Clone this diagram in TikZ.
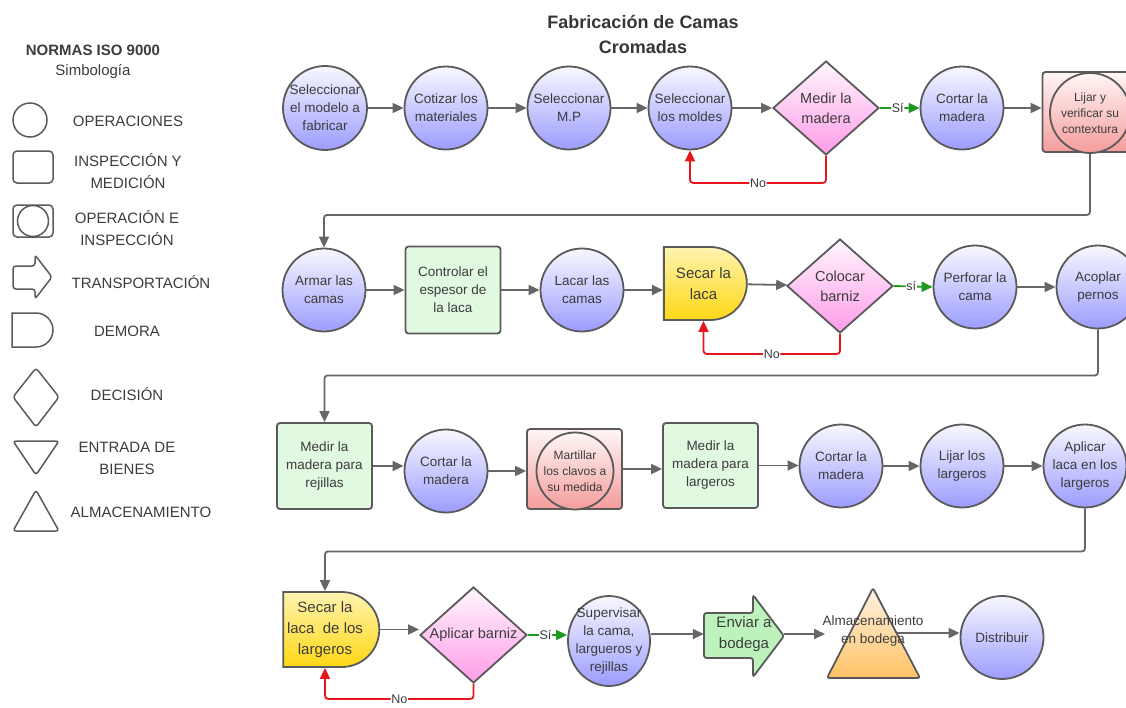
\documentclass[tikz,border=0pt]{standalone}
\usepackage{fontspec}
\setmainfont{Liberation Sans}
\usetikzlibrary{arrows.meta,shapes.geometric,shapes.misc}

\definecolor{edge}{HTML}{5A5A5A}
\definecolor{wire}{HTML}{666666}
\definecolor{ink}{HTML}{3C3C3C}
\definecolor{opTop}{HTML}{F8F8FF}
\definecolor{opBot}{HTML}{9C9CFF}
\definecolor{decTop}{HTML}{FFF6FD}
\definecolor{decBot}{HTML}{FF9CE8}
\definecolor{redTop}{HTML}{FFF6F6}
\definecolor{redBot}{HTML}{F59C9C}
\definecolor{yelTop}{HTML}{FFF3B0}
\definecolor{yelBot}{HTML}{FFD814}
\definecolor{insFill}{HTML}{E1F8E1}
\definecolor{trFill}{HTML}{BDF2BD}
\definecolor{almTop}{HTML}{FFF4E4}
\definecolor{almBot}{HTML}{FFC266}
\definecolor{noRed}{HTML}{E8161C}
\definecolor{siGreen}{HTML}{1E9B1E}

\tikzset{
  txtA/.style={font=\fontsize{13.5}{18}\selectfont},
  txtB/.style={font=\fontsize{14.5}{20}\selectfont},
  txtC/.style={font=\fontsize{12}{16}\selectfont},
  txtD/.style={font=\fontsize{15}{21}\selectfont},
  shapebase/.style={draw=edge, line width=1.8pt, text=ink, align=center, inner sep=0pt},
  oper/.style={shapebase, circle, minimum size=83pt, top color=opTop, bottom color=opBot, txtA},
  insp/.style={shapebase, rectangle, rounded corners=3pt, minimum width=95pt, minimum height=86pt, fill=insFill, txtA},
  decis/.style={shapebase, diamond, shape aspect=1.1, minimum width=106pt, minimum height=94pt, top color=decTop, bottom color=decBot, txtB},
  combobox/.style={shapebase, rectangle, rounded corners=3pt, minimum width=95pt, minimum height=80pt, top color=redTop, bottom color=redBot},
  combocirc/.style={shapebase, circle, top color=redTop, bottom color=redBot, txtC},
  delay/.style={shapebase, rounded rectangle, rounded rectangle left arc=none, top color=yelTop, bottom color=yelBot, txtD},
  conn/.style={draw=wire, line width=1.8pt, -{Triangle[length=11pt,width=10pt]}, rounded corners=3pt},
  noloop/.style={conn, draw=noRed},
  siarrow/.style={conn, draw=siGreen},
  lbl/.style={fill=white, inner sep=0.6pt, text=ink, font=\fontsize{12.5}{14}\selectfont},
  legshape/.style={draw=edge, line width=1.5pt, rounded corners=3pt},
  legnode/.style={draw=edge, line width=1.5pt, inner sep=0pt},
  legtext/.style={text=ink, align=center, font=\fontsize{15}{22}\selectfont},
}

\begin{document}
\begin{tikzpicture}[x=1pt,y=-1pt]
\useasboundingbox (0,0) rectangle (1126,707);

% ---------- title ----------
\node[text=ink!90!black, align=center, font=\bfseries\fontsize{18}{25}\selectfont] (title) at (643,34)
  {Fabricación de Camas\\Cromadas};

% ---------- legend ----------
\node[legtext, font=\bfseries\fontsize{15}{22}\selectfont] (lgtitle) at (93,50) {NORMAS ISO 9000};
\node[legtext] (lgsub) at (93,72) {Simbología};

\node[legnode, circle, minimum size=34pt] (lgop) at (30,120) {};
\node[legtext] (lgoptx) at (128,121) {OPERACIONES};

\node[legnode, rectangle, rounded corners=4pt, minimum width=40pt, minimum height=32pt] (lgins) at (33,167) {};
\node[legtext] (lginstx) at (128,171) {INSPECCIÓN Y\\MEDICIÓN};

\node[legnode, rectangle, rounded corners=4pt, minimum width=40pt, minimum height=32pt] (lgcomb) at (33,221) {};
\node[legnode, circle, minimum size=31pt] (lgcombc) at (33,221) {};
\node[legtext] (lgcombtx) at (127,228) {OPERACIÓN E\\INSPECCIÓN};

\draw[legshape] (13,266) -- (35,266) -- (35,255) -- (52,277) -- (35,299) -- (35,289) -- (13,289) -- cycle;
\node[legtext] (lgtrtx) at (141,282) {TRANSPORTACIÓN};

\node[legnode, rounded rectangle, rounded rectangle left arc=none, minimum width=41pt, minimum height=34pt] (lgdel) at (32.5,330) {};
\node[legtext] (lgdeltx) at (127,331) {DEMORA};

\draw[legshape] (36,368) -- (59,397) -- (36,427) -- (13,397) -- cycle;
\node[legtext] (lgdectx) at (127,394) {DECISIÓN};

\draw[legshape] (13,441) -- (59,441) -- (36,475) -- cycle;
\node[legtext] (lgenttx) at (127,458) {ENTRADA DE\\BIENES};

\draw[legshape] (36,490) -- (59,531) -- (13,531) -- cycle;
\node[legtext] (lgalmtx) at (141,512) {ALMACENAMIENTO};

% ---------- row 1 ----------
\node[oper] (s1) at (325,108) {Seleccionar\\el modelo a\\fabricar};
\node[oper] (s2) at (446,108) {Cotizar los\\materiales};
\node[oper] (s3) at (569,108) {Seleccionar\\M.P};
\node[oper] (s4) at (690,108) {Seleccionar\\los moldes};
\node[decis] (d1) at (826,108) {Medir la\\madera};
\node[oper] (c5) at (962,108) {Cortar la\\madera};
\node[combobox] (lijr) at (1090,112) {};
\node[combocirc, minimum size=80pt] (lij) at (1090,113) {Lijar y\\verificar su\\contextura};

\draw[conn] (s1) -- (s2);
\draw[conn] (s2) -- (s3);
\draw[conn] (s3) -- (s4);
\draw[conn] (s4) -- (d1);
\draw[siarrow] (d1.east) -- node[lbl, pos=0.45] {Sí} (c5.west);
\draw[conn] (c5.east) -- (c5.east -| lijr.west);
\draw[noloop] (d1.south) -- ++(0,27) -| node[lbl, pos=0.25] {No} (s4.south);

% ---------- row 2 ----------
\node[oper] (arm) at (324,290) {Armar las\\camas};
\node[insp, minimum height=87pt] (ctl) at (453,290) {Controlar el\\espesor de\\la laca};
\node[oper] (lac) at (582,290) {Lacar las\\camas};
\node[delay, minimum width=83pt, minimum height=73pt] (sec1) at (703.5,283.5) {Secar la\\laca};
\node[decis] (dec2) at (840,286) {Colocar\\barniz};
\node[oper] (per) at (975,287) {Perforar la\\cama};
\node[oper] (aco) at (1098,287) {Acoplar\\pernos};

\draw[conn] (lijr.south -| lij.south) ++(0,1) -- ++(0,61) -| (arm.north);
\draw[conn] (arm) -- (ctl);
\draw[conn] (ctl) -- (lac);
\draw[conn] (lac.east) -- (lac.east -| sec1.west);
\draw[conn] (sec1) -- (dec2);
\draw[siarrow] (dec2.east) -- node[lbl, pos=0.45] {sí} (per.west);
\draw[conn] (per) -- (aco);
\draw[noloop] (dec2.south) -- ++(0,20) -| node[lbl, pos=0.25] {No} (sec1.south);

% ---------- row 3 ----------
\node[insp] (m1) at (324.5,466) {Medir la\\madera para\\rejillas};
\node[oper] (cor1) at (446,471) {Cortar la\\madera};
\node[combobox] (marr) at (574.5,469) {};
\node[combocirc, minimum size=77pt] (mar) at (575,471) {Martillar\\los clavos a\\su medida};
\node[insp, minimum height=85pt] (m2) at (710.5,465.5) {Medir la\\madera para\\largeros};
\node[oper] (cor2) at (841,466) {Cortar la\\madera};
\node[oper] (lij2) at (962,466) {Lijar los\\largeros};
\node[oper] (apl) at (1085,466) {Aplicar\\laca en los\\largeros};

\draw[conn] (aco.south) -- ++(0,46) -| (m1.north);
\draw[conn] (m1.east) -- (m1.east -| cor1.west);
\draw[conn] (cor1) -- (marr.west |- cor1);
\draw[conn] (marr.east) -- (marr.east -| m2.west);
\draw[conn] (m2.east) -- (m2.east -| cor2.west);
\draw[conn] (cor2) -- (lij2);
\draw[conn] (lij2) -- (apl);

% ---------- row 4 ----------
\node[delay, minimum width=96pt, minimum height=75pt] (sec2) at (325,629.5) {Secar la\\laca \ de los\\largeros};
\node[decis, minimum width=107pt, minimum height=96pt] (dec4) at (473.5,635) {Aplicar barniz};
\node[shapebase, ellipse, inner xsep=-8pt, inner ysep=-10pt, minimum width=82pt, minimum height=90pt,
      top color=opTop, bottom color=opBot, txtA] (sup) at (609,641) {Supervisar\\la cama,\\largueros y\\rejillas};

% transport arrow
\filldraw[draw=edge, fill=trFill, line width=1.8pt, rounded corners=2.5pt]
  (704,613) -- (753,613) -- (753,595) -- (784,636) -- (753,677) -- (753,658) -- (704,658) -- cycle;
\node[text=ink, align=center, txtD, minimum width=80pt, minimum height=82pt, inner sep=0pt] (tr) at (744,634) {Enviar a\\bodega};

% storage triangle
\shade[draw=edge, line width=1.8pt, top color=almTop, bottom color=almBot, rounded corners=2.5pt]
  (873,588) -- (920,678) -- (827,678) -- cycle;
\node[text=ink, align=center, txtA, inner sep=0pt] (alm) at (873,631) {Almacenamiento\\en bodega};
\coordinate (almin) at (825,634);
\coordinate (almout) at (897,633);

\node[oper] (dis) at (1002,637.5) {Distribuir};

\draw[conn] (apl.south) -- ++(0,43) -| (sec2.north);
\draw[conn] (sec2.east) -- (sec2.east -| dec4.west);
\draw[siarrow] (dec4.east) -- node[lbl, pos=0.45] {Sí} (dec4.east -| sup.west);
\draw[conn] (sup.east |- tr.west) -- (tr.west);
\draw[conn] (tr.east) -- (almin);
\draw[conn] (almout) -- (almout -| dis.west);
\draw[noloop] (dec4.south) -- ++(0,15) -| node[lbl, pos=0.25] {No} (sec2.south);

\end{tikzpicture}
\end{document}
